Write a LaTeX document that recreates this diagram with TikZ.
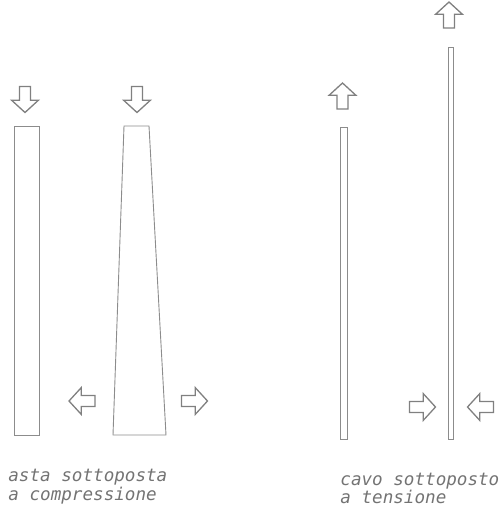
\documentclass[tikz,border=0pt]{standalone}
\usepackage{fontspec}
\setmonofont{DejaVu Sans Mono}
\usetikzlibrary{shapes.arrows,positioning}

\begin{document}
\begin{tikzpicture}[
    x=1pt, y=-1pt,
    line width=0.8pt,
    member/.style={draw=black!45, line width=0.9pt},
    force/.style={single arrow, draw=black!50, line width=1.3pt, minimum height=26pt, minimum width=26pt, inner sep=4.8pt, single arrow head extend=8pt, single arrow tip angle=95, anchor=center},
    caption/.style={anchor=base west, inner sep=0pt, text=black!55, font=\ttfamily\itshape\fontsize{17.6}{19}\selectfont}
]
    \useasboundingbox (0,0) rectangle (502,511);

    % asta sottoposta a compressione
    \draw[member] (14,126) rectangle (39,435);
    \draw[member] (124,126) -- (149,126) -- (166,435) -- (113,435) -- cycle;

    \node[force, shape border rotate=270] (downA) at (25,97) {};
    \node[force, shape border rotate=270] (downB) at (137,97) {};
    \node[force, shape border rotate=180] (leftA) at (84.5,401) {};
    \node[force] (rightA) at (192,401) {};

    % cavo sottoposto a tensione
    \draw[member] (340,127) rectangle (347,439);
    \draw[member] (448,47) rectangle (453,439);

    \node[force, shape border rotate=90] (upA) at (342.5,98.5) {};
    \node[force, shape border rotate=90] (upB) at (449,17.5) {};
    \node[force] (rightB) at (420,407) {};
    \node[force, shape border rotate=180] (leftB) at (483,407) {};

    % didascalie
    \node[caption] (astaA) at (8,481) {asta sottoposta};
    \node[caption] (astaB) at (8,500) {a compressione};
    \node[caption] (cavoA) at (340,485) {cavo sottoposto};
    \node[caption] (cavoB) at (340,503) {a tensione};

\end{tikzpicture}
\end{document}
